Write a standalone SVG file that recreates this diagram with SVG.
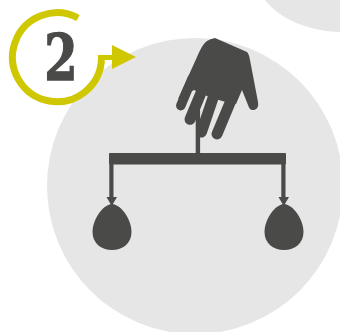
<svg xmlns="http://www.w3.org/2000/svg" width="340" height="332" viewBox="0 0 340 332">
<style>
.bg{fill:#e6e6e6}
.d{fill:#4a4a48}
.f{fill:none;stroke:#4a4a48;stroke-width:11;stroke-linecap:round}
.y{fill:#cfc800}
</style>
<defs>
<g id="bag"><rect x="-2.700" y="-41" width="4.200" height="34"/><path d="M-5.500 -8H5L-0.300 1Z"/><path d="M0 -1C10 0 19.500 15 19.500 27C19.500 38 11 45 0 45C-11 45 -19.500 38 -19.500 27C-19.500 15 -10 0 0 -1Z"/></g>
</defs>
<circle class="bg" cx="195" cy="186" r="148"/>
<path class="bg" d="M265 0C280 20 310 31 340 32V0Z"/>
<g id="badge">
<path d="M78 18A44.500 44.500 0 1 0 101.500 58" fill="none" stroke="#cfc800" stroke-width="7"/>
<path class="y" d="M98 55H112V45L136 57L112 69V60H98Z"/>
<text transform="translate(61 79.500) scale(0.76 1)" text-anchor="middle" font-family="'DejaVu Serif',serif" font-weight="bold" font-size="63" fill="#4a4a48" stroke="#4a4a48" stroke-width="1.300">2</text>
</g>
<g id="hand">
<path class="d" d="M215 38L247 52Q249 54 250 60L258 102C259 108 256 110 253 110C250 110 249 108 248 105L242 90L236 104L222 101L207 96L194 90L178 99L197 57C200 50 203 44 207 41Q210 39 215 38Z"/>
<path class="f" style="stroke-width:9.500" d="M180.800 105.700L192 79"/>
<path class="f" d="M190 119.300L203 88"/>
<path class="f" d="M201.500 132L215 92"/>
<path class="f" d="M217 134L232 98"/>
</g>
<g id="connectors" class="d">
<rect x="109" y="153" width="177" height="11.500" rx="1"/>
<rect x="195.700" y="110" width="4.400" height="44"/>
<use href="#bag" x="112" y="205"/>
<use href="#bag" x="284" y="205"/>
</g>
</svg>
